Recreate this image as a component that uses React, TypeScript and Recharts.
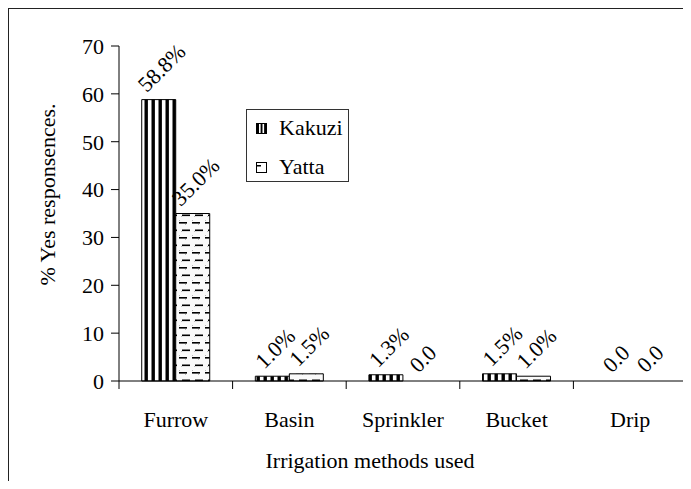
import React from 'react';
import { BarChart, Bar, XAxis, YAxis, Legend, LabelList, Rectangle } from 'recharts';

// ---------------------------------------------------------------------------
// Data
// ---------------------------------------------------------------------------

const categories = ['Furrow', 'Basin', 'Sprinkler', 'Bucket', 'Drip'];
const kakuziValues = [58.8, 1.0, 1.3, 1.5, 0.0];
const yattaValues = [35.0, 1.5, 0.0, 1.0, 0.0];
const kakuziLabels = ['58.8%', '1.0%', '1.3%', '1.5%', '0.0'];
const yattaLabels = ['35.0%', '1.5%', '0.0', '1.0%', '0.0'];
const yTicks = [0, 10, 20, 30, 40, 50, 60, 70];

const data = categories.map((name, i) => ({
  name,
  Kakuzi: kakuziValues[i],
  Yatta: yattaValues[i],
  kakuziLabel: kakuziLabels[i],
  yattaLabel: yattaLabels[i],
}));

const FONT = '"Liberation Serif", "Times New Roman", serif';
const FS = 22;

// rough Times glyph widths (em) for the value labels
function labelWidth(text: string): number {
  let w = 0;
  for (const ch of text) {
    if (ch === '.') w += 0.25;
    else if (ch === '%') w += 0.833;
    else w += 0.5;
  }
  return w * FS;
}

// ---------------------------------------------------------------------------
// Custom pieces
// ---------------------------------------------------------------------------

function ValueLabel(props: any) {
  const vb = props.viewBox || {};
  const x = props.x ?? vb.x;
  const y = props.y ?? vb.y;
  const width = props.width ?? vb.width;
  const text = props.value;
  if (text === undefined || text === null) return null;

  // center the rotated text box over the bar (Excel style)
  const c = Math.SQRT1_2;
  const L = labelWidth(String(text));
  const a = 0.891 * FS;
  const d = 0.216 * FS;
  const cx = x + width / 2;
  const ax = cx - (c * (L + d - a)) / 2 + 3;
  const ay = y - 3 - c * d;

  return (
    <text
      x={ax}
      y={ay}
      transform={`rotate(-45 ${ax} ${ay})`}
      fontFamily={FONT}
      fontSize={FS}
      fill="#000"
    >
      {text}
    </text>
  );
}

// zero values keep their slot (for the label) but draw nothing
const barShape = (key: string) => (p: any) =>
  p.payload && p.payload[key] === 0 ? <g /> : <Rectangle {...p} />;

function CategoryTick(props: any) {
  const { x, y, payload, index } = props;
  const half = payload?.offset ?? 0;
  return (
    <g>
      <line x1={x + half} y1={y} x2={x + half} y2={y + 8} stroke="#000" />
      {index === 0 && (
        <line x1={x - half} y1={y} x2={x - half} y2={y + 8} stroke="#000" />
      )}
      <text x={x} y={y + 46} textAnchor="middle" fontFamily={FONT} fontSize={FS} fill="#000">
        {payload.value}
      </text>
    </g>
  );
}

function XTitle(props: any) {
  const vb = props.viewBox;
  return (
    <text
      x={vb.x + vb.width / 2 - 33}
      y={vb.y + 87}
      textAnchor="middle"
      fontFamily={FONT}
      fontSize={FS}
      fill="#000"
    >
      Irrigation methods used
    </text>
  );
}

function YTitle(props: any) {
  const vb = props.viewBox;
  const x = vb.x + 38;
  const y = vb.y + vb.height / 2 - 19;
  return (
    <text
      x={x}
      y={y}
      transform={`rotate(-90 ${x} ${y})`}
      textAnchor="middle"
      dominantBaseline="central"
      fontFamily={FONT}
      fontSize={FS}
      fill="#000"
    >
      % Yes responsences.
    </text>
  );
}

function LegendBox() {
  const row: React.CSSProperties = {
    position: 'absolute',
    left: 9,
    height: 26,
    display: 'flex',
    alignItems: 'center',
    fontFamily: FONT,
    fontSize: FS,
    color: '#000',
    lineHeight: '26px',
  };
  return (
    <div
      style={{
        position: 'relative',
        width: 103,
        height: 73,
        boxSizing: 'border-box',
        border: '1px solid #333',
        background: '#fff',
      }}
    >
      <div style={{ ...row, top: 5 }}>
        <svg width={11} height={11} style={{ marginRight: 12 }}>
          <rect x={0} y={0} width={11} height={11} fill="#000" />
          <rect x={3} y={1} width={1.6} height={9} fill="#fff" />
          <rect x={6.5} y={1} width={1.6} height={9} fill="#fff" />
        </svg>
        Kakuzi
      </div>
      <div style={{ ...row, top: 44 }}>
        <svg width={11} height={11} style={{ marginRight: 12 }}>
          <rect x={0.5} y={0.5} width={10} height={10} fill="#fff" stroke="#000" />
          <rect x={1} y={3} width={4} height={1.5} fill="#000" />
        </svg>
        Yatta
      </div>
    </div>
  );
}

// ---------------------------------------------------------------------------
// Main
// ---------------------------------------------------------------------------

export default function App() {
  return (
    <div
      style={{
        width: 683,
        height: 473,
        boxSizing: 'border-box',
        borderTop: '1px solid #222',
        borderLeft: '1px solid #222',
        overflow: 'hidden',
        background: '#fff',
      }}
    >
      <BarChart
        width={682}
        height={472}
        data={data}
        margin={{ top: 37, right: 4, left: 0, bottom: 0 }}
        barCategoryGap="20%"
        barGap={0}
      >
        <defs>
          <pattern id="kakuziFill" width={7} height={7} patternUnits="userSpaceOnUse">
            <rect x={0} y={0} width={7} height={7} fill="#fff" />
            <rect x={2.5} y={0} width={3.4} height={7} fill="#000" />
          </pattern>
          <pattern id="yattaFill" width={13} height={15} patternUnits="userSpaceOnUse">
            <rect x={0} y={0} width={13} height={15} fill="#fafafa" />
            <rect x={1} y={1} width={1} height={1} fill="#bbb" />
            <rect x={7} y={5} width={1} height={1} fill="#bbb" />
            <rect x={3} y={12} width={1} height={1} fill="#bbb" />
            <rect x={1} y={3} width={8} height={1.6} fill="#000" />
            <rect x={4} y={10.5} width={8} height={1.6} fill="#000" />
          </pattern>
        </defs>

        <XAxis
          dataKey="name"
          height={100}
          axisLine={{ stroke: '#000' }}
          tickLine={false}
          tickSize={0}
          tickMargin={0}
          interval={0}
          tick={<CategoryTick />}
          label={(p: any) => <XTitle {...p} />}
        />
        <YAxis
          width={110}
          domain={[0, 70]}
          ticks={yTicks}
          interval={0}
          axisLine={{ stroke: '#000' }}
          tickLine={{ stroke: '#000' }}
          tickSize={8}
          tickMargin={7}
          tick={{ fill: '#000', fontSize: FS, fontFamily: FONT }}
          label={(p: any) => <YTitle {...p} />}
        />

        <Legend
          layout="vertical"
          align="center"
          verticalAlign="middle"
          content={() => <LegendBox />}
          wrapperStyle={{ position: 'absolute', left: 237, top: 100, width: 103, height: 73 }}
        />

        <Bar
          dataKey="Kakuzi"
          fill="url(#kakuziFill)"
          stroke="#000"
          strokeWidth={1}
          minPointSize={1}
          shape={barShape('Kakuzi')}
          isAnimationActive={false}
        >
          <LabelList dataKey="kakuziLabel" content={(p: any) => <ValueLabel {...p} />} />
        </Bar>
        <Bar
          dataKey="Yatta"
          fill="url(#yattaFill)"
          stroke="#000"
          strokeWidth={1}
          minPointSize={1}
          shape={barShape('Yatta')}
          isAnimationActive={false}
        >
          <LabelList dataKey="yattaLabel" content={(p: any) => <ValueLabel {...p} />} />
        </Bar>
      </BarChart>
    </div>
  );
}
